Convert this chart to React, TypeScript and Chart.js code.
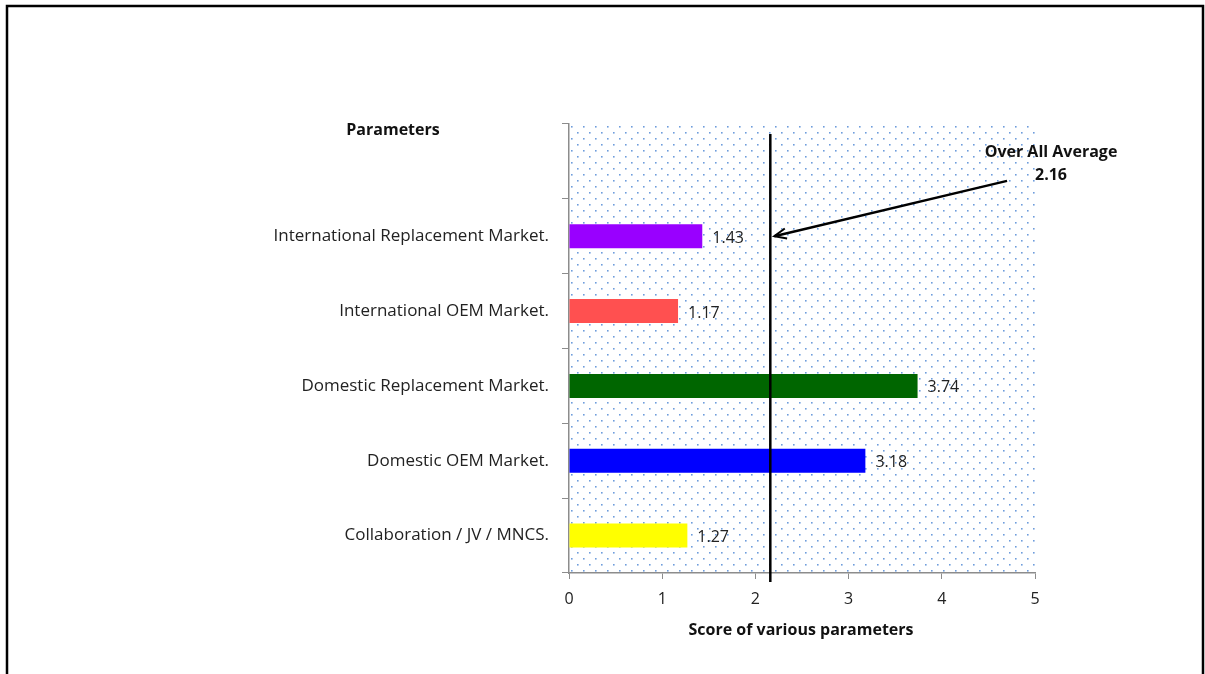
import React, { useEffect, useRef } from "react";
import { Chart, registerables } from "chart.js";

Chart.register(...registerables);

const categories = [
  "",
  "International Replacement Market.",
  "International OEM Market.",
  "Domestic Replacement Market.",
  "Domestic OEM Market.",
  "Collaboration / JV / MNCS.",
];
const scores: (number | null)[] = [null, 1.43, 1.17, 3.74, 3.18, 1.27];
const barColors = ["#ffffff", "#9900ff", "#ff5050", "#006600", "#0000ff", "#ffff00"];
const xTicks = [0, 1, 2, 3, 4, 5];
const overallAverage = 2.16;
const averageLabel = ["Over All Average", "2.16"];
const yAxisTitle = "Parameters";
const xAxisTitle = "Score of various parameters";
// arrow annotation in data units: tail (x, category position) -> tip near average line at bar 1
const arrowTail = { x: 4.7, y: 0.26 };
const arrowTipCategory = 1;

const FONT = "'Open Sans', 'DejaVu Sans', sans-serif";

function makeDotPattern(ctx: CanvasRenderingContext2D) {
  const c = document.createElement("canvas");
  c.width = 12;
  c.height = 12;
  const g = c.getContext("2d")!;
  g.fillStyle = "#ffffff";
  g.fillRect(0, 0, 12, 12);
  g.fillStyle = "#6f9ddc";
  g.fillRect(2, 2, 1.6, 1.6);
  g.fillRect(8, 8, 1.6, 1.6);
  return ctx.createPattern(c, "repeat");
}

const decorPlugin = {
  id: "decor",
  beforeDraw(chart: any) {
    const { ctx, chartArea } = chart;
    ctx.save();
    ctx.fillStyle = "#ffffff";
    ctx.fillRect(0, 0, chart.width, chart.height);
    const pat = makeDotPattern(ctx);
    if (pat) {
      ctx.translate(chartArea.left, chartArea.top);
      ctx.fillStyle = pat;
      ctx.fillRect(0, 0, chartArea.right - chartArea.left, chartArea.bottom - chartArea.top);
    }
    ctx.restore();
  },
  afterDraw(chart: any) {
    const { ctx, chartArea, scales } = chart;
    const xs = scales.x;
    const ys = scales.y;
    ctx.save();

    // value labels
    ctx.font = `16px ${FONT}`;
    ctx.fillStyle = "#222222";
    ctx.textAlign = "left";
    ctx.textBaseline = "middle";
    scores.forEach((v, i) => {
      if (v === null) return;
      const px = xs.getPixelForValue(v);
      const py = ys.getPixelForValue(i);
      ctx.fillText(v.toFixed(2), px + 10, py + 2);
    });

    // average line
    const ax = xs.getPixelForValue(overallAverage);
    ctx.strokeStyle = "#000000";
    ctx.lineWidth = 2.5;
    ctx.beginPath();
    ctx.moveTo(ax, chartArea.top + 10);
    ctx.lineTo(ax, chartArea.bottom + 9);
    ctx.stroke();

    // arrow
    const tx = xs.getPixelForValue(arrowTail.x);
    const ty = ys.getPixelForValue(arrowTail.y);
    const hx = ax + 4;
    const hy = ys.getPixelForValue(arrowTipCategory);
    ctx.lineWidth = 2.5;
    ctx.beginPath();
    ctx.moveTo(tx, ty);
    ctx.lineTo(hx, hy);
    ctx.stroke();
    const ang = Math.atan2(hy - ty, hx - tx);
    const L = 13;
    ctx.lineWidth = 2;
    ctx.beginPath();
    ctx.moveTo(hx + Math.cos(ang + Math.PI - 0.4) * L, hy + Math.sin(ang + Math.PI - 0.4) * L);
    ctx.lineTo(hx, hy);
    ctx.lineTo(hx + Math.cos(ang + Math.PI + 0.4) * L, hy + Math.sin(ang + Math.PI + 0.4) * L);
    ctx.stroke();

    // annotation text
    ctx.font = `bold 16px ${FONT}`;
    ctx.fillStyle = "#111111";
    ctx.textAlign = "center";
    ctx.fillText(averageLabel[0], 1051, 152);
    ctx.fillText(averageLabel[1], 1051, 175);

    // axis titles
    ctx.fillText(yAxisTitle, 393, 130);
    ctx.fillText(xAxisTitle, 801, 630);

    // frame
    ctx.strokeStyle = "#000000";
    ctx.lineWidth = 2.5;
    ctx.beginPath();
    ctx.moveTo(7, chart.height + 5);
    ctx.lineTo(7, 6);
    ctx.lineTo(1203, 6);
    ctx.lineTo(1203, chart.height + 5);
    ctx.stroke();

    ctx.restore();
  },
};

export default function App() {
  const ref = useRef<HTMLCanvasElement | null>(null);
  useEffect(() => {
    if (!ref.current) return;
    const chart = new Chart(ref.current, {
      type: "bar",
      data: {
        labels: categories,
        datasets: [
          {
            data: scores as any,
            backgroundColor: barColors,
            borderWidth: 0,
            barPercentage: 0.32,
            categoryPercentage: 1,
          },
        ],
      },
      options: {
        indexAxis: "y",
        responsive: false,
        animation: false,
        devicePixelRatio: 1,
        layout: { padding: { left: 0, right: 170, top: 124, bottom: 0 } },
        plugins: { legend: { display: false }, tooltip: { enabled: false } },
        scales: {
          y: {
            type: "category",
            afterFit(scale: any) {
              scale.width = 569;
            },
            grid: {
              display: true,
              drawOnChartArea: false,
              tickLength: 7,
              color: "#8c8c8c",
              offset: true,
            },
            border: { color: "#8c8c8c", width: 1.5 },
            ticks: {
              padding: 13,
              color: "#222222",
              font: { family: FONT, size: 17 },
            },
          },
          x: {
            type: "linear",
            min: 0,
            max: 5,
            afterFit(scale: any) {
              scale.height = 101;
            },
            afterBuildTicks(scale: any) {
              scale.ticks = xTicks.map((v) => ({ value: v }));
            },
            grid: {
              display: true,
              drawOnChartArea: false,
              tickLength: 6,
              color: "#8c8c8c",
            },
            border: { color: "#8c8c8c", width: 1.5 },
            ticks: {
              padding: 11,
              color: "#222222",
              font: { family: FONT, size: 16 },
            },
          },
        },
      },
      plugins: [decorPlugin],
    });
    return () => chart.destroy();
  }, []);
  return (
    <canvas
      ref={ref}
      width={1205}
      height={674}
      style={{ position: "fixed", left: 0, top: 0, width: 1205, height: 674 }}
    />
  );
}
